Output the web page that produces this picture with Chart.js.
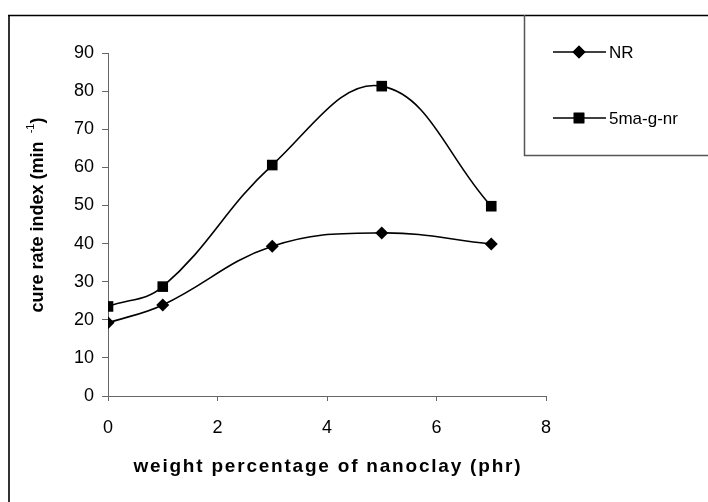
<!DOCTYPE html>
<html>
<head>
<meta charset="utf-8">
<script src="https://cdn.jsdelivr.net/npm/chart.js@4/dist/chart.umd.min.js"></script>
<style>
  body { margin: 0; background: #fff; }
  #wrap { width: 708px; height: 502px; }
</style>
</head>
<body>
<div id="wrap"><canvas id="c" width="708" height="502"></canvas></div>
<script>
// data
var nanoclay = [0, 1, 3, 5, 7];
var nrValues = [19.2, 23.9, 39.3, 42.8, 39.9];
var maValues = [23.5, 28.7, 60.6, 81.3, 49.8];
var seriesNames = ['NR', '5ma-g-nr'];
var xTicks = [0, 2, 4, 6, 8];
var yTicks = [0, 10, 20, 30, 40, 50, 60, 70, 80, 90];

var FONT = '"Liberation Sans", Arial, sans-serif';

function points(xs, ys) {
  return xs.map(function(x, i){ return { x: x, y: ys[i] }; });
}

// frame, legend box and axis titles (the bits Chart.js can't place like Excel did)
var decor = {
  id: 'decor',
  afterDraw: function(chart){
    var ctx = chart.ctx;
    var area = chart.chartArea;
    ctx.save();

    // outer frame
    ctx.strokeStyle = '#333';
    ctx.lineWidth = 2;
    ctx.beginPath(); ctx.moveTo(9, 15); ctx.lineTo(9, 510); ctx.stroke();
    ctx.strokeStyle = '#000';
    ctx.lineWidth = 1.5;
    ctx.beginPath(); ctx.moveTo(8, 15.5); ctx.lineTo(710, 15.5); ctx.stroke();

    // legend box
    ctx.strokeStyle = '#555';
    ctx.lineWidth = 1.5;
    ctx.beginPath();
    ctx.moveTo(524.5, 15); ctx.lineTo(524.5, 155.5); ctx.lineTo(710, 155.5);
    ctx.stroke();

    var rows = [52, 118];
    chart.data.datasets.forEach(function(ds, i){
      var y = rows[i];
      ctx.strokeStyle = '#000';
      ctx.lineWidth = 1.5;
      ctx.beginPath(); ctx.moveTo(553, y); ctx.lineTo(606, y); ctx.stroke();
      ctx.fillStyle = '#000';
      Chart.helpers.drawPoint(ctx, { pointStyle: ds.pointStyle, radius: ds.pointRadius, borderWidth: 0 }, 579, y);
      ctx.fill();
      ctx.font = '17px ' + FONT;
      ctx.textBaseline = 'middle';
      ctx.textAlign = 'left';
      ctx.fillText(ds.label, 609, y + 1);
    });

    // x title, a little spread out like the original
    var xt = 'weight percentage of nanoclay (phr)';
    ctx.font = 'bold 19px ' + FONT;
    var w0 = ctx.measureText(xt).width;
    var spacing = Math.max(0, (389 - w0) / xt.length);
    ctx.letterSpacing = spacing.toFixed(2) + 'px';
    ctx.textAlign = 'center';
    ctx.textBaseline = 'middle';
    ctx.fillText(xt, (area.left + area.right) / 2 + spacing / 2, 467);
    ctx.letterSpacing = '0px';

    // y title with superscript
    var main = 'cure rate index (min ';
    var sup = ' -1';
    var size = 18;
    ctx.font = 'bold ' + size + 'px ' + FONT;
    var wMain = ctx.measureText(main).width;
    var wClose = ctx.measureText(')').width;
    ctx.font = '11px ' + FONT;
    var wSup = ctx.measureText(sup).width;
    var total = wMain + wSup + wClose;
    ctx.translate(38, 215);
    ctx.rotate(-Math.PI / 2);
    var sx = -total / 2;
    ctx.textAlign = 'left';
    ctx.textBaseline = 'middle';
    ctx.font = 'bold ' + size + 'px ' + FONT;
    ctx.fillText(main, sx, 0);
    ctx.font = '11px ' + FONT;
    ctx.fillText(sup, sx + wMain, -7);
    ctx.font = 'bold ' + size + 'px ' + FONT;
    ctx.fillText(')', sx + wMain + wSup, 0);

    ctx.restore();
  }
};

var chart = new Chart(document.getElementById('c'), {
  type: 'line',
  data: {
    datasets: [
      {
        label: seriesNames[0],
        data: points(nanoclay, nrValues),
        borderColor: '#000',
        backgroundColor: '#000',
        borderWidth: 1.6,
        pointStyle: 'rectRot',
        pointRadius: 6.5,
        pointBorderWidth: 0,
        tension: 0.4
      },
      {
        label: seriesNames[1],
        data: points(nanoclay, maValues),
        borderColor: '#000',
        backgroundColor: '#000',
        borderWidth: 1.6,
        pointStyle: 'rect',
        pointRadius: 7.5,
        pointBorderWidth: 0,
        tension: 0.4
      }
    ]
  },
  options: {
    responsive: false,
    animation: false,
    layout: { padding: { top: 53, right: 162, left: 0, bottom: 0 } },
    plugins: {
      legend: { display: false },
      tooltip: { enabled: false }
    },
    scales: {
      x: {
        type: 'linear',
        min: xTicks[0],
        max: xTicks[xTicks.length - 1],
        afterBuildTicks: function(scale){
          scale.ticks = xTicks.map(function(v){ return { value: v }; });
        },
        afterFit: function(scale){ scale.height = 106; },
        grid: { drawOnChartArea: false, tickLength: 5, color: '#666' },
        border: { color: '#666', width: 1 },
        ticks: { color: '#000', padding: 16, maxRotation: 0, font: { family: FONT, size: 18 } }
      },
      y: {
        min: yTicks[0],
        max: yTicks[yTicks.length - 1],
        afterBuildTicks: function(scale){
          scale.ticks = yTicks.map(function(v){ return { value: v }; });
        },
        afterFit: function(scale){ scale.width = 108; },
        grid: { drawOnChartArea: false, tickLength: 6, color: '#666' },
        border: { color: '#666', width: 1 },
        ticks: { color: '#000', padding: 8, font: { family: FONT, size: 18 } }
      }
    }
  },
  plugins: [decor]
});
</script>
</body>
</html>
